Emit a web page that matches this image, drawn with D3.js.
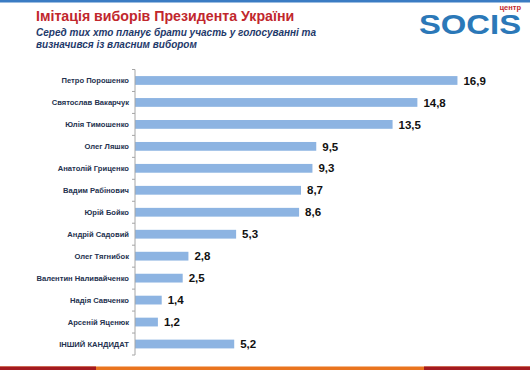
<!DOCTYPE html>
<html>
<head>
<meta charset="utf-8">
<script src="https://cdn.jsdelivr.net/npm/d3@7"></script>
<style>
  body { margin: 0; background: #fff; }
  svg { display: block; font-family: "Liberation Sans", Arial, sans-serif; }
  .name { font-size: 7.6px; font-weight: bold; fill: #25324f; }
  .value { font-size: 11.5px; font-weight: bold; fill: #111; }
  .axis path, .axis line { stroke: #a6a6a6; }
</style>
</head>
<body>
<div id="chart"></div>
<script>
var candidates = ["Петро Порошенко", "Святослав Вакарчук", "Юлія Тимошенко", "Олег Ляшко",
    "Анатолій Гриценко", "Вадим Рабінович", "Юрій Бойко", "Андрій Садовий", "Олег Тягнибок",
    "Валентин Наливайченко", "Надія Савченко", "Арсеній Яценюк", "ІНШИЙ КАНДИДАТ"];
var values = [16.9, 14.8, 13.5, 9.5, 9.3, 8.7, 8.6, 5.3, 2.8, 2.5, 1.4, 1.2, 5.2];
var valueLabels = ["16,9", "14,8", "13,5", "9,5", "9,3", "8,7", "8,6", "5,3", "2,8", "2,5", "1,4", "1,2", "5,2"];

var title = "Імітація виборів Президента України";
var subtitle = ["Серед тих хто планує брати участь у голосуванні та", "визначився із власним вибором"];

var W = 530, H = 370;

var svg = d3.select("#chart").append("svg")
    .attr("width", W)
    .attr("height", H);

// frame stripes
svg.append("rect").attr("x", 0).attr("y", 0).attr("width", W).attr("height", 2.5).attr("fill", "#3b7cc3");
svg.append("rect").attr("x", 0).attr("y", 366.5).attr("width", W).attr("height", 3.5).attr("fill", "#e9741f");
svg.append("rect").attr("x", 0).attr("y", 366.5).attr("width", 96).attr("height", 3.5).attr("fill", "#a31a1f");
svg.append("rect").attr("x", 424).attr("y", 366.5).attr("width", 106).attr("height", 3.5).attr("fill", "#a31a1f");

// titles
svg.append("text")
    .attr("x", 36).attr("y", 20.5)
    .attr("font-size", "14.2px").attr("font-weight", "bold")
    .attr("fill", "#c1272d")
    .text(title);

svg.selectAll(".sub")
    .data(subtitle)
    .enter().append("text")
    .attr("class", "sub")
    .attr("x", 36)
    .attr("y", function (d, i) { return 35.5 + i * 12; })
    .attr("font-size", "10px").attr("font-weight", "bold").attr("font-style", "italic")
    .attr("fill", "#1f3a6b")
    .text(function (d) { return d; });

// logo
var logo = svg.append("g").attr("class", "logo");
logo.append("text")
    .attr("x", 521).attr("y", 9.5)
    .attr("text-anchor", "end")
    .attr("font-size", "7.5px").attr("font-weight", "bold")
    .attr("fill", "#c1272d")
    .text("центр");
logo.append("text")
    .attr("x", 419).attr("y", 33.5)
    .attr("font-size", "27px").attr("font-weight", "bold")
    .attr("textLength", 102).attr("lengthAdjust", "spacingAndGlyphs")
    .attr("fill", "#2b78b8")
    .text("SOCIS");

// scales
var y = d3.scaleBand()
    .domain(candidates)
    .range([69.5, 355])
    .paddingInner(0.6)
    .paddingOuter(0.3);

var x = d3.scaleLinear()
    .domain([0, 18])
    .range([135, 135 + 18 * 19.08]);

// bars
svg.selectAll(".bar")
    .data(values)
    .enter().append("rect")
    .attr("class", "bar")
    .attr("x", x(0))
    .attr("y", function (d, i) { return y(candidates[i]); })
    .attr("width", function (d) { return x(d) - x(0); })
    .attr("height", y.bandwidth())
    .attr("fill", "#8db4e2");

svg.selectAll(".value")
    .data(values)
    .enter().append("text")
    .attr("class", "value")
    .attr("x", function (d) { return x(d) + 6; })
    .attr("y", function (d, i) { return y(candidates[i]) + y.bandwidth() / 2; })
    .attr("dy", "0.36em")
    .text(function (d, i) { return valueLabels[i]; });

// y axis with ticks between categories
var axis = svg.append("g").attr("class", "axis");
axis.append("line")
    .attr("x1", x(0)).attr("x2", x(0))
    .attr("y1", y.range()[0]).attr("y2", y.range()[1]);
axis.selectAll(".tick")
    .data(d3.range(candidates.length + 1))
    .enter().append("line")
    .attr("class", "tick")
    .attr("x1", x(0) - 3).attr("x2", x(0))
    .attr("y1", function (i) { return y.range()[0] + i * y.step(); })
    .attr("y2", function (i) { return y.range()[0] + i * y.step(); });

svg.selectAll(".name")
    .data(candidates)
    .enter().append("text")
    .attr("class", "name")
    .attr("x", 129)
    .attr("y", function (d) { return y(d) + y.bandwidth() / 2; })
    .attr("dy", "0.36em")
    .attr("text-anchor", "end")
    .text(function (d) { return d; });
</script>
</body>
</html>
